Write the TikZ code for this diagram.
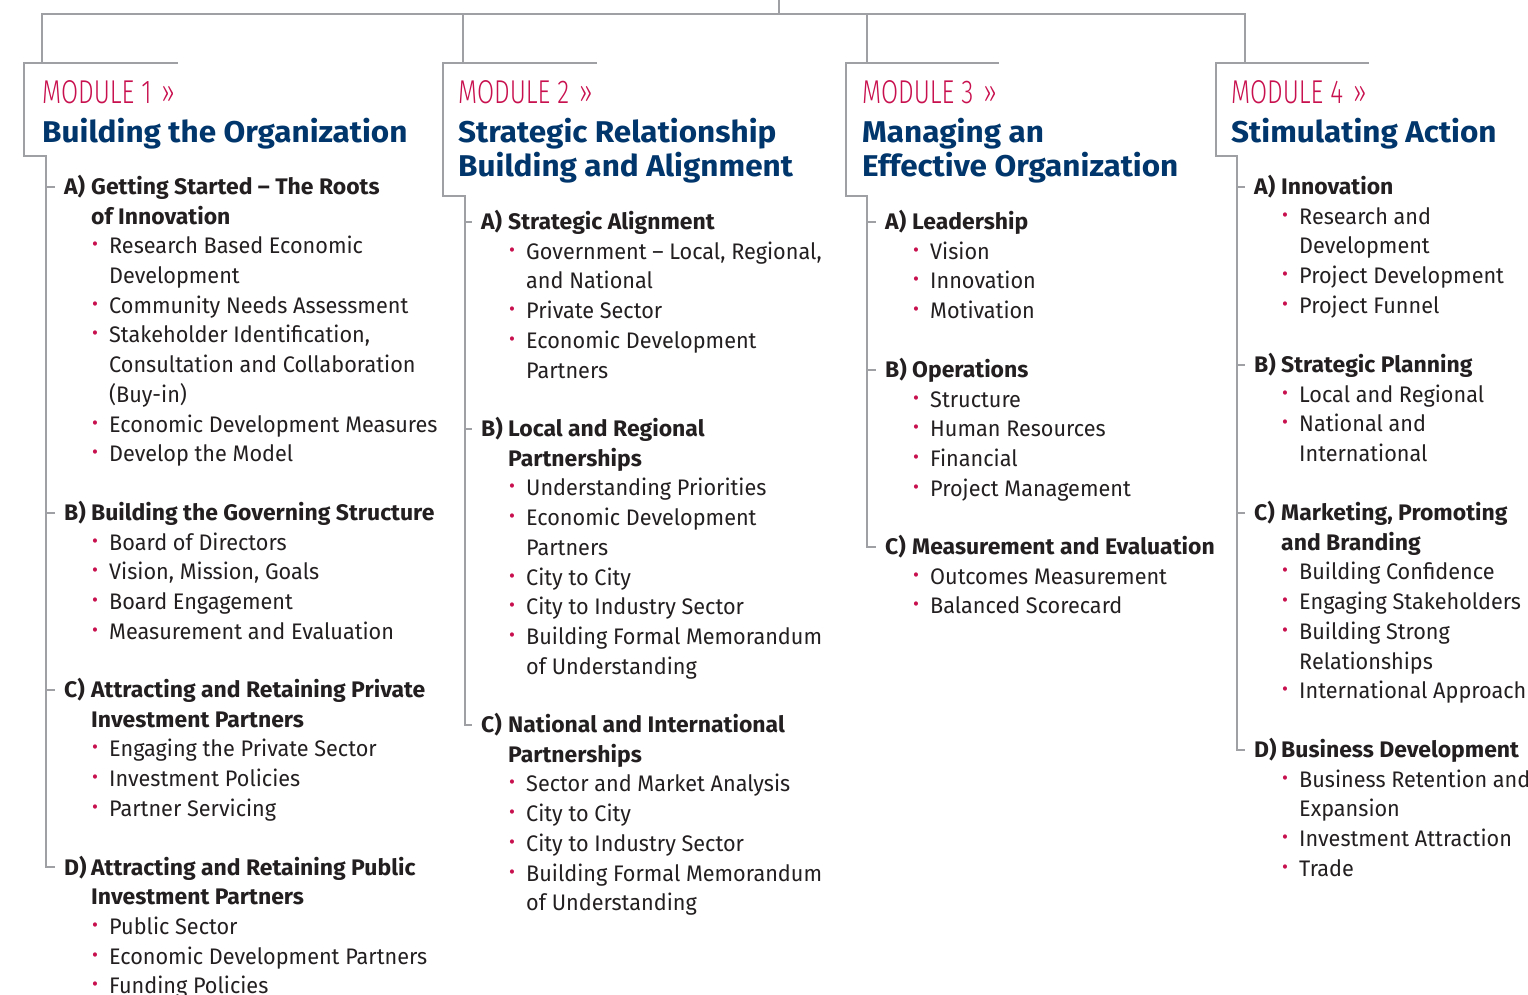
\documentclass[tikz,border=0pt]{standalone}
\usepackage{fontspec}
\setmainfont{Fira Sans}[UprightFeatures={FakeStretch=0.962},BoldFeatures={FakeStretch=1.02}]
\newfontfamily\modfont{Fira Sans Light}[FakeStretch=0.75]
\newfontfamily\titlefont{Fira Sans}[BoldFeatures={FakeStretch=1.05}]

\definecolor{accent}{RGB}{200,16,78}
\definecolor{navy}{RGB}{0,54,107}
\definecolor{ink}{RGB}{35,31,32}
\definecolor{wire}{RGB}{158,160,163}

% body text: size and line pitch of the outline
\newcommand\bodysize{\fontsize{22.5}{29.7}\selectfont}
% small red bullet hung in front of an item
\newcommand\bul{\llap{\makebox[17pt][l]{\raisebox{3pt}{\fontsize{19}{19}\selectfont\color{accent}•}}}}
% one outline item (manual line breaks with \\)
\newcommand\itm[1]{\par{\leftskip=18pt\noindent\bul#1\par}}
% bold section heading
\newcommand\hd[1]{\noindent{\bfseries #1}\par}
% a section body whose baseline is its first line
\newcommand\sect[1]{\begin{minipage}[t]{430pt}\bodysize\raggedright #1\end{minipage}}
\newcommand\ttl[1]{\begin{minipage}[t]{430pt}\titlefont\fontsize{30}{34}\selectfont\bfseries\raggedright #1\end{minipage}}

\begin{document}
\begin{tikzpicture}[x=1pt,y=-1pt,
  wire/.style={draw=wire,line width=2pt},
  modlabel/.style={anchor=base west,inner sep=0pt,text=accent,font=\modfont\fontsize{33}{33}\selectfont},
  titletext/.style={anchor=base west,inner sep=0pt,text=navy},
  letter/.style={anchor=base west,inner sep=0pt,text=ink,font=\bodysize\bfseries},
  body/.style={anchor=base west,inner sep=0pt,text=ink},
]
\useasboundingbox (0,0) rectangle (1528,995);

% ---------- frame coordinates ----------
\coordinate (root) at (779,0);
\coordinate (bus) at (779,14);
\coordinate (m1drop) at (42,63);
\coordinate (m2drop) at (463,63);
\coordinate (m3drop) at (867,63);
\coordinate (m4drop) at (1245,63);

\coordinate (m1tr) at (178,63);  \coordinate (m1tl) at (24,63);
\coordinate (m1bl) at (24,156);  \coordinate (m1br) at (46,156);
\coordinate (m2tr) at (597,63);  \coordinate (m2tl) at (443,63);
\coordinate (m2bl) at (443,196); \coordinate (m2br) at (465,196);
\coordinate (m3tr) at (999,63);  \coordinate (m3tl) at (846,63);
\coordinate (m3bl) at (846,196); \coordinate (m3br) at (867,196);
\coordinate (m4tr) at (1369,63); \coordinate (m4tl) at (1216,63);
\coordinate (m4bl) at (1216,156);\coordinate (m4br) at (1237,156);

% ---------- module headers ----------
\node[modlabel] (m1lab) at (42,104) {MODULE 1\hspace{10pt}»};
\node[titletext] (m1title) at (42,143) {\ttl{Building the Organization}};
\node[modlabel] (m2lab) at (458,104) {MODULE 2\hspace{10pt}»};
\node[titletext] (m2title) at (458,143) {\ttl{Strategic Relationship\\Building and Alignment}};
\node[modlabel] (m3lab) at (862,104) {MODULE 3\hspace{10pt}»};
\node[titletext] (m3title) at (862,143) {\ttl{Managing an\\Effective Organization}};
\node[modlabel] (m4lab) at (1231,104) {MODULE 4\hspace{10pt}»};
\node[titletext] (m4title) at (1231,143) {\ttl{Stimulating Action}};

% ---------- module 1 ----------
\node[letter] (m1A) at (64,194.5) {A)};
\node[body] (m1Ab) at (91,194.5) {\sect{\hd{Getting Started – The Roots\\of Innovation}
  \itm{Research Based Economic\\Development}
  \itm{Community Needs Assessment}
  \itm{Stakeholder Identification,\\Consultation and Collaboration\\(Buy-in)}
  \itm{Economic Development Measures}
  \itm{Develop the Model}}};
\node[letter] (m1B) at (64,520.5) {B)};
\node[body] (m1Bb) at (91,520.5) {\sect{\hd{Building the Governing Structure}
  \itm{Board of Directors}
  \itm{Vision, Mission, Goals}
  \itm{Board Engagement}
  \itm{Measurement and Evaluation}}};
\node[letter] (m1C) at (64,697.5) {C)};
\node[body] (m1Cb) at (91,697.5) {\sect{\hd{Attracting and Retaining Private\\Investment Partners}
  \itm{Engaging the Private Sector}
  \itm{Investment Policies}
  \itm{Partner Servicing}}};
\node[letter] (m1D) at (64,875) {D)};
\node[body] (m1Db) at (91,875) {\sect{\hd{Attracting and Retaining Public\\Investment Partners}
  \itm{Public Sector}
  \itm{Economic Development Partners}
  \itm{Funding Policies}}};

% ---------- module 2 ----------
\node[letter] (m2A) at (481,229.5) {A)};
\node[body] (m2Ab) at (508,229.5) {\sect{\hd{Strategic Alignment}
  \itm{Government – Local, Regional,\\and National}
  \itm{Private Sector}
  \itm{Economic Development\\Partners}}};
\node[letter] (m2B) at (481,436.5) {B)};
\node[body] (m2Bb) at (508,436.5) {\sect{\hd{Local and Regional\\Partnerships}
  \itm{Understanding Priorities}
  \itm{Economic Development\\Partners}
  \itm{City to City}
  \itm{City to Industry Sector}
  \itm{Building Formal Memorandum\\of Understanding}}};
\node[letter] (m2C) at (481,732.5) {C)};
\node[body] (m2Cb) at (508,732.5) {\sect{\hd{National and International\\Partnerships}
  \itm{Sector and Market Analysis}
  \itm{City to City}
  \itm{City to Industry Sector}
  \itm{Building Formal Memorandum\\of Understanding}}};

% ---------- module 3 ----------
\node[letter] (m3A) at (885,229.5) {A)};
\node[body] (m3Ab) at (912,229.5) {\sect{\hd{Leadership}
  \itm{Vision}
  \itm{Innovation}
  \itm{Motivation}}};
\node[letter] (m3B) at (885,377.5) {B)};
\node[body] (m3Bb) at (912,377.5) {\sect{\hd{Operations}
  \itm{Structure}
  \itm{Human Resources}
  \itm{Financial}
  \itm{Project Management}}};
\node[letter] (m3C) at (885,554.5) {C)};
\node[body] (m3Cb) at (912,554.5) {\sect{\hd{Measurement and Evaluation}
  \itm{Outcomes Measurement}
  \itm{Balanced Scorecard}}};

% ---------- module 4 ----------
\node[letter] (m4A) at (1254,194.5) {A)};
\node[body] (m4Ab) at (1281,194.5) {\sect{\hd{Innovation}
  \itm{Research and\\Development}
  \itm{Project Development}
  \itm{Project Funnel}}};
\node[letter] (m4B) at (1254,372.5) {B)};
\node[body] (m4Bb) at (1281,372.5) {\sect{\hd{Strategic Planning}
  \itm{Local and Regional}
  \itm{National and\\International}}};
\node[letter] (m4C) at (1254,520.5) {C)};
\node[body] (m4Cb) at (1281,520.5) {\sect{\hd{Marketing, Promoting\\and Branding}
  \itm{Building Confidence}
  \itm{Engaging Stakeholders}
  \itm{Building Strong\\Relationships}
  \itm{International Approach}}};
\node[letter] (m4D) at (1254,757.5) {D)};
\node[body] (m4Db) at (1281,757.5) {\sect{\hd{Business Development}
  \itm{Business Retention and\\Expansion}
  \itm{Investment Attraction}
  \itm{Trade}}};

% ---------- connectors ----------
\draw[wire] (root) -- (bus);
\draw[wire] (m1drop) -- (m1drop |- bus) -- (m4drop |- bus) -- (m4drop);
\draw[wire] (m2drop |- bus) -- (m2drop);
\draw[wire] (m3drop |- bus) -- (m3drop);

% header brackets running into each module's outline spine
\draw[wire] (m1tr) -- (m1tl) -- (m1bl) -- (m1br) |- ([xshift=-9pt]m1D.west);
\draw[wire] (m2tr) -- (m2tl) -- (m2bl) -- (m2br) |- ([xshift=-9pt]m2C.west);
\draw[wire] (m3tr) -- (m3tl) -- (m3bl) -- (m3br) |- ([xshift=-9pt]m3C.west);
\draw[wire] (m4tr) -- (m4tl) -- (m4bl) -- (m4br) |- ([xshift=-9pt]m4D.west);

% section ticks
\foreach \s in {A,B,C} \draw[wire] (m1br |- m1\s.west) -- ([xshift=-9pt]m1\s.west);
\foreach \s in {A,B} \draw[wire] (m2br |- m2\s.west) -- ([xshift=-9pt]m2\s.west);
\foreach \s in {A,B} \draw[wire] (m3br |- m3\s.west) -- ([xshift=-9pt]m3\s.west);
\foreach \s in {A,B,C} \draw[wire] (m4br |- m4\s.west) -- ([xshift=-9pt]m4\s.west);
\end{tikzpicture}
\end{document}
